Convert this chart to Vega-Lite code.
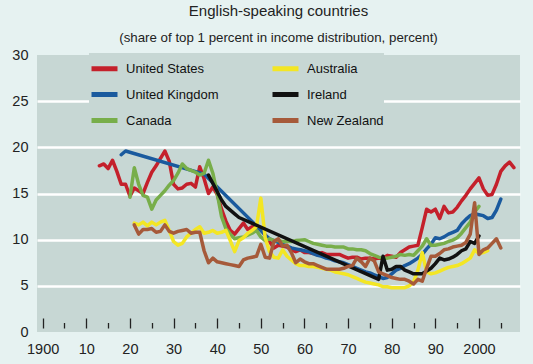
{
  "$schema": "https://vega.github.io/schema/vega-lite/v6.json",
  "width": 483,
  "height": 277,
  "autosize": {"type": "none"},
  "padding": {"left": 37, "top": 55, "right": 13, "bottom": 32},
  "background": "#e6f2f1",
  "title": {
    "text": "English-speaking countries",
    "subtitle": "(share of top 1 percent in income distribution, percent)",
    "font": "Liberation Sans",
    "subtitleFont": "Liberation Sans",
    "fontSize": 15,
    "subtitleFontSize": 13.3,
    "fontWeight": "normal",
    "color": "#222222",
    "subtitleColor": "#222222",
    "anchor": "middle",
    "offset": 3,
    "subtitlePadding": 12
  },
  "config": {
    "view": {"fill": "#c7d7d4", "stroke": null},
    "font": "Liberation Sans"
  },
  "datasets": {
    "d": [
{"country":"United States","year":1913,"share":18.0},{"country":"United States","year":1914,"share":18.2},{"country":"United States","year":1915,"share":17.7},{"country":"United States","year":1916,"share":18.6},{"country":"United States","year":1917,"share":17.4},{"country":"United States","year":1918,"share":16.0},{"country":"United States","year":1919,"share":16.0},{"country":"United States","year":1920,"share":14.7},{"country":"United States","year":1921,"share":15.6},{"country":"United States","year":1922,"share":15.3},{"country":"United States","year":1923,"share":15.0},{"country":"United States","year":1924,"share":16.2},{"country":"United States","year":1925,"share":17.3},{"country":"United States","year":1926,"share":18.0},{"country":"United States","year":1927,"share":18.8},{"country":"United States","year":1928,"share":19.6},{"country":"United States","year":1929,"share":18.5},{"country":"United States","year":1930,"share":16.0},{"country":"United States","year":1931,"share":15.5},{"country":"United States","year":1932,"share":15.6},{"country":"United States","year":1933,"share":16.0},{"country":"United States","year":1934,"share":16.1},{"country":"United States","year":1935,"share":15.7},{"country":"United States","year":1936,"share":17.9},{"country":"United States","year":1937,"share":16.6},{"country":"United States","year":1938,"share":15.0},{"country":"United States","year":1939,"share":15.7},{"country":"United States","year":1940,"share":14.9},{"country":"United States","year":1941,"share":13.3},{"country":"United States","year":1942,"share":12.0},{"country":"United States","year":1943,"share":11.0},{"country":"United States","year":1944,"share":10.6},{"country":"United States","year":1945,"share":11.2},{"country":"United States","year":1946,"share":11.8},{"country":"United States","year":1947,"share":11.1},{"country":"United States","year":1948,"share":11.4},{"country":"United States","year":1949,"share":11.1},{"country":"United States","year":1950,"share":11.3},{"country":"United States","year":1951,"share":10.5},{"country":"United States","year":1952,"share":9.8},{"country":"United States","year":1953,"share":9.1},{"country":"United States","year":1954,"share":9.4},{"country":"United States","year":1955,"share":9.3},{"country":"United States","year":1956,"share":9.2},{"country":"United States","year":1957,"share":8.9},{"country":"United States","year":1958,"share":8.7},{"country":"United States","year":1959,"share":8.9},{"country":"United States","year":1960,"share":8.6},{"country":"United States","year":1961,"share":8.6},{"country":"United States","year":1962,"share":8.5},{"country":"United States","year":1963,"share":8.5},{"country":"United States","year":1964,"share":8.6},{"country":"United States","year":1965,"share":8.4},{"country":"United States","year":1966,"share":8.4},{"country":"United States","year":1967,"share":8.4},{"country":"United States","year":1968,"share":8.4},{"country":"United States","year":1969,"share":8.2},{"country":"United States","year":1970,"share":8.0},{"country":"United States","year":1971,"share":8.1},{"country":"United States","year":1972,"share":8.1},{"country":"United States","year":1973,"share":7.9},{"country":"United States","year":1974,"share":8.0},{"country":"United States","year":1975,"share":8.0},{"country":"United States","year":1976,"share":7.9},{"country":"United States","year":1977,"share":8.0},{"country":"United States","year":1978,"share":8.0},{"country":"United States","year":1979,"share":8.3},{"country":"United States","year":1980,"share":8.2},{"country":"United States","year":1981,"share":8.1},{"country":"United States","year":1982,"share":8.6},{"country":"United States","year":1983,"share":8.9},{"country":"United States","year":1984,"share":9.2},{"country":"United States","year":1985,"share":9.3},{"country":"United States","year":1986,"share":9.4},{"country":"United States","year":1987,"share":11.3},{"country":"United States","year":1988,"share":13.3},{"country":"United States","year":1989,"share":13.0},{"country":"United States","year":1990,"share":13.3},{"country":"United States","year":1991,"share":12.3},{"country":"United States","year":1992,"share":13.6},{"country":"United States","year":1993,"share":12.9},{"country":"United States","year":1994,"share":13.0},{"country":"United States","year":1995,"share":13.5},{"country":"United States","year":1996,"share":14.2},{"country":"United States","year":1997,"share":14.8},{"country":"United States","year":1998,"share":15.5},{"country":"United States","year":1999,"share":16.1},{"country":"United States","year":2000,"share":16.7},{"country":"United States","year":2001,"share":15.5},{"country":"United States","year":2002,"share":14.8},{"country":"United States","year":2003,"share":14.9},{"country":"United States","year":2004,"share":16.0},{"country":"United States","year":2005,"share":17.4},{"country":"United States","year":2006,"share":18.0},{"country":"United States","year":2007,"share":18.4},{"country":"United States","year":2008,"share":17.8},
{"country":"United Kingdom","year":1918,"share":19.2},{"country":"United Kingdom","year":1919,"share":19.6},{"country":"United Kingdom","year":1937,"share":17.1},{"country":"United Kingdom","year":1949,"share":11.5},{"country":"United Kingdom","year":1951,"share":10.5},{"country":"United Kingdom","year":1952,"share":10.1},{"country":"United Kingdom","year":1953,"share":9.9},{"country":"United Kingdom","year":1954,"share":9.7},{"country":"United Kingdom","year":1955,"share":9.5},{"country":"United Kingdom","year":1956,"share":9.3},{"country":"United Kingdom","year":1957,"share":9.1},{"country":"United Kingdom","year":1958,"share":9.0},{"country":"United Kingdom","year":1959,"share":8.9},{"country":"United Kingdom","year":1960,"share":8.8},{"country":"United Kingdom","year":1961,"share":8.7},{"country":"United Kingdom","year":1962,"share":8.5},{"country":"United Kingdom","year":1963,"share":8.3},{"country":"United Kingdom","year":1964,"share":8.2},{"country":"United Kingdom","year":1965,"share":8.0},{"country":"United Kingdom","year":1966,"share":7.9},{"country":"United Kingdom","year":1967,"share":7.7},{"country":"United Kingdom","year":1968,"share":7.6},{"country":"United Kingdom","year":1969,"share":7.5},{"country":"United Kingdom","year":1970,"share":7.3},{"country":"United Kingdom","year":1971,"share":7.1},{"country":"United Kingdom","year":1972,"share":6.9},{"country":"United Kingdom","year":1973,"share":6.7},{"country":"United Kingdom","year":1974,"share":6.5},{"country":"United Kingdom","year":1975,"share":6.4},{"country":"United Kingdom","year":1976,"share":6.2},{"country":"United Kingdom","year":1977,"share":6.0},{"country":"United Kingdom","year":1978,"share":5.8},{"country":"United Kingdom","year":1979,"share":5.9},{"country":"United Kingdom","year":1980,"share":6.3},{"country":"United Kingdom","year":1981,"share":6.7},{"country":"United Kingdom","year":1982,"share":6.9},{"country":"United Kingdom","year":1983,"share":7.2},{"country":"United Kingdom","year":1984,"share":7.4},{"country":"United Kingdom","year":1985,"share":7.7},{"country":"United Kingdom","year":1986,"share":8.0},{"country":"United Kingdom","year":1987,"share":8.4},{"country":"United Kingdom","year":1988,"share":9.0},{"country":"United Kingdom","year":1989,"share":9.5},{"country":"United Kingdom","year":1990,"share":10.2},{"country":"United Kingdom","year":1991,"share":10.1},{"country":"United Kingdom","year":1992,"share":10.3},{"country":"United Kingdom","year":1993,"share":10.6},{"country":"United Kingdom","year":1994,"share":10.8},{"country":"United Kingdom","year":1995,"share":11.0},{"country":"United Kingdom","year":1996,"share":11.7},{"country":"United Kingdom","year":1997,"share":12.2},{"country":"United Kingdom","year":1998,"share":12.6},{"country":"United Kingdom","year":1999,"share":12.8},{"country":"United Kingdom","year":2000,"share":12.7},{"country":"United Kingdom","year":2001,"share":12.6},{"country":"United Kingdom","year":2002,"share":12.3},{"country":"United Kingdom","year":2003,"share":12.4},{"country":"United Kingdom","year":2004,"share":13.2},{"country":"United Kingdom","year":2005,"share":14.4},
{"country":"Canada","year":1920,"share":14.6},{"country":"Canada","year":1921,"share":17.8},{"country":"Canada","year":1922,"share":16.0},{"country":"Canada","year":1923,"share":14.8},{"country":"Canada","year":1924,"share":14.6},{"country":"Canada","year":1925,"share":13.3},{"country":"Canada","year":1926,"share":14.3},{"country":"Canada","year":1927,"share":14.8},{"country":"Canada","year":1928,"share":15.3},{"country":"Canada","year":1929,"share":15.9},{"country":"Canada","year":1930,"share":16.4},{"country":"Canada","year":1931,"share":17.2},{"country":"Canada","year":1932,"share":18.2},{"country":"Canada","year":1933,"share":17.7},{"country":"Canada","year":1934,"share":17.5},{"country":"Canada","year":1935,"share":17.3},{"country":"Canada","year":1936,"share":17.0},{"country":"Canada","year":1937,"share":17.2},{"country":"Canada","year":1938,"share":18.6},{"country":"Canada","year":1939,"share":17.2},{"country":"Canada","year":1940,"share":15.0},{"country":"Canada","year":1941,"share":12.5},{"country":"Canada","year":1942,"share":11.2},{"country":"Canada","year":1943,"share":10.6},{"country":"Canada","year":1944,"share":10.1},{"country":"Canada","year":1945,"share":10.2},{"country":"Canada","year":1946,"share":10.3},{"country":"Canada","year":1947,"share":10.5},{"country":"Canada","year":1948,"share":10.7},{"country":"Canada","year":1949,"share":11.0},{"country":"Canada","year":1950,"share":10.3},{"country":"Canada","year":1951,"share":9.9},{"country":"Canada","year":1952,"share":10.1},{"country":"Canada","year":1953,"share":9.9},{"country":"Canada","year":1954,"share":9.9},{"country":"Canada","year":1955,"share":9.8},{"country":"Canada","year":1956,"share":9.8},{"country":"Canada","year":1957,"share":9.8},{"country":"Canada","year":1958,"share":9.9},{"country":"Canada","year":1959,"share":9.95},{"country":"Canada","year":1960,"share":10.0},{"country":"Canada","year":1961,"share":9.8},{"country":"Canada","year":1962,"share":9.6},{"country":"Canada","year":1963,"share":9.5},{"country":"Canada","year":1964,"share":9.4},{"country":"Canada","year":1965,"share":9.3},{"country":"Canada","year":1966,"share":9.3},{"country":"Canada","year":1967,"share":9.2},{"country":"Canada","year":1968,"share":9.2},{"country":"Canada","year":1969,"share":9.2},{"country":"Canada","year":1970,"share":9.0},{"country":"Canada","year":1971,"share":9.0},{"country":"Canada","year":1972,"share":8.9},{"country":"Canada","year":1973,"share":8.9},{"country":"Canada","year":1974,"share":8.8},{"country":"Canada","year":1975,"share":8.5},{"country":"Canada","year":1976,"share":8.3},{"country":"Canada","year":1977,"share":8.1},{"country":"Canada","year":1978,"share":8.0},{"country":"Canada","year":1979,"share":8.0},{"country":"Canada","year":1980,"share":8.1},{"country":"Canada","year":1981,"share":8.2},{"country":"Canada","year":1982,"share":8.4},{"country":"Canada","year":1983,"share":8.3},{"country":"Canada","year":1984,"share":8.4},{"country":"Canada","year":1985,"share":8.3},{"country":"Canada","year":1986,"share":8.8},{"country":"Canada","year":1987,"share":9.3},{"country":"Canada","year":1988,"share":10.1},{"country":"Canada","year":1989,"share":9.4},{"country":"Canada","year":1990,"share":9.4},{"country":"Canada","year":1991,"share":9.5},{"country":"Canada","year":1992,"share":9.6},{"country":"Canada","year":1993,"share":9.8},{"country":"Canada","year":1994,"share":9.95},{"country":"Canada","year":1995,"share":10.2},{"country":"Canada","year":1996,"share":10.7},{"country":"Canada","year":1997,"share":11.3},{"country":"Canada","year":1998,"share":11.9},{"country":"Canada","year":1999,"share":13.0},{"country":"Canada","year":2000,"share":13.6},
{"country":"Australia","year":1921,"share":11.8},{"country":"Australia","year":1922,"share":11.6},{"country":"Australia","year":1923,"share":11.9},{"country":"Australia","year":1924,"share":11.5},{"country":"Australia","year":1925,"share":11.9},{"country":"Australia","year":1926,"share":11.6},{"country":"Australia","year":1927,"share":11.9},{"country":"Australia","year":1928,"share":12.1},{"country":"Australia","year":1929,"share":11.0},{"country":"Australia","year":1930,"share":9.8},{"country":"Australia","year":1931,"share":9.4},{"country":"Australia","year":1932,"share":9.6},{"country":"Australia","year":1933,"share":10.3},{"country":"Australia","year":1934,"share":10.7},{"country":"Australia","year":1935,"share":11.1},{"country":"Australia","year":1936,"share":11.4},{"country":"Australia","year":1937,"share":10.7},{"country":"Australia","year":1938,"share":10.8},{"country":"Australia","year":1939,"share":11.0},{"country":"Australia","year":1940,"share":10.7},{"country":"Australia","year":1941,"share":10.8},{"country":"Australia","year":1942,"share":11.0},{"country":"Australia","year":1943,"share":9.9},{"country":"Australia","year":1944,"share":8.7},{"country":"Australia","year":1945,"share":9.9},{"country":"Australia","year":1946,"share":10.2},{"country":"Australia","year":1947,"share":10.7},{"country":"Australia","year":1948,"share":11.0},{"country":"Australia","year":1949,"share":11.4},{"country":"Australia","year":1950,"share":14.5},{"country":"Australia","year":1951,"share":10.2},{"country":"Australia","year":1952,"share":8.7},{"country":"Australia","year":1953,"share":8.1},{"country":"Australia","year":1954,"share":8.0},{"country":"Australia","year":1955,"share":8.9},{"country":"Australia","year":1956,"share":8.2},{"country":"Australia","year":1957,"share":7.8},{"country":"Australia","year":1958,"share":7.4},{"country":"Australia","year":1959,"share":7.2},{"country":"Australia","year":1960,"share":7.2},{"country":"Australia","year":1961,"share":7.1},{"country":"Australia","year":1962,"share":7.1},{"country":"Australia","year":1963,"share":7.0},{"country":"Australia","year":1964,"share":6.9},{"country":"Australia","year":1965,"share":6.8},{"country":"Australia","year":1966,"share":6.7},{"country":"Australia","year":1967,"share":6.5},{"country":"Australia","year":1968,"share":6.4},{"country":"Australia","year":1969,"share":6.3},{"country":"Australia","year":1970,"share":6.2},{"country":"Australia","year":1971,"share":6.0},{"country":"Australia","year":1972,"share":5.8},{"country":"Australia","year":1973,"share":5.6},{"country":"Australia","year":1974,"share":5.4},{"country":"Australia","year":1975,"share":5.3},{"country":"Australia","year":1976,"share":5.2},{"country":"Australia","year":1977,"share":5.1},{"country":"Australia","year":1978,"share":4.9},{"country":"Australia","year":1979,"share":4.9},{"country":"Australia","year":1980,"share":4.8},{"country":"Australia","year":1981,"share":4.8},{"country":"Australia","year":1982,"share":4.8},{"country":"Australia","year":1983,"share":4.8},{"country":"Australia","year":1984,"share":5.0},{"country":"Australia","year":1985,"share":5.4},{"country":"Australia","year":1986,"share":6.7},{"country":"Australia","year":1987,"share":8.6},{"country":"Australia","year":1988,"share":6.5},{"country":"Australia","year":1989,"share":6.3},{"country":"Australia","year":1990,"share":6.4},{"country":"Australia","year":1991,"share":6.6},{"country":"Australia","year":1992,"share":6.8},{"country":"Australia","year":1993,"share":7.0},{"country":"Australia","year":1994,"share":7.1},{"country":"Australia","year":1995,"share":7.2},{"country":"Australia","year":1996,"share":7.4},{"country":"Australia","year":1997,"share":7.7},{"country":"Australia","year":1998,"share":8.0},{"country":"Australia","year":1999,"share":8.9},{"country":"Australia","year":2000,"share":8.5},{"country":"Australia","year":2001,"share":8.6},{"country":"Australia","year":2002,"share":8.8},
{"country":"Ireland","year":1938,"share":17.0},{"country":"Ireland","year":1939,"share":16.1},{"country":"Ireland","year":1940,"share":15.2},{"country":"Ireland","year":1941,"share":14.3},{"country":"Ireland","year":1942,"share":13.6},{"country":"Ireland","year":1943,"share":13.2},{"country":"Ireland","year":1944,"share":12.8},{"country":"Ireland","year":1945,"share":12.4},{"country":"Ireland","year":1977,"share":5.7},{"country":"Ireland","year":1978,"share":8.2},{"country":"Ireland","year":1979,"share":6.7},{"country":"Ireland","year":1980,"share":6.8},{"country":"Ireland","year":1981,"share":7.1},{"country":"Ireland","year":1982,"share":7.1},{"country":"Ireland","year":1983,"share":6.7},{"country":"Ireland","year":1984,"share":6.5},{"country":"Ireland","year":1985,"share":6.3},{"country":"Ireland","year":1986,"share":6.3},{"country":"Ireland","year":1987,"share":6.3},{"country":"Ireland","year":1988,"share":6.6},{"country":"Ireland","year":1989,"share":6.9},{"country":"Ireland","year":1990,"share":7.4},{"country":"Ireland","year":1991,"share":8.0},{"country":"Ireland","year":1992,"share":7.8},{"country":"Ireland","year":1993,"share":7.9},{"country":"Ireland","year":1994,"share":8.1},{"country":"Ireland","year":1995,"share":8.4},{"country":"Ireland","year":1996,"share":8.8},{"country":"Ireland","year":1997,"share":9.0},{"country":"Ireland","year":1998,"share":9.8},{"country":"Ireland","year":1999,"share":9.6},{"country":"Ireland","year":2000,"share":10.4},
{"country":"New Zealand","year":1921,"share":11.6},{"country":"New Zealand","year":1922,"share":10.6},{"country":"New Zealand","year":1923,"share":11.1},{"country":"New Zealand","year":1924,"share":11.1},{"country":"New Zealand","year":1925,"share":11.2},{"country":"New Zealand","year":1926,"share":10.8},{"country":"New Zealand","year":1927,"share":10.9},{"country":"New Zealand","year":1928,"share":11.6},{"country":"New Zealand","year":1929,"share":10.9},{"country":"New Zealand","year":1930,"share":10.7},{"country":"New Zealand","year":1931,"share":10.9},{"country":"New Zealand","year":1932,"share":11.0},{"country":"New Zealand","year":1933,"share":11.1},{"country":"New Zealand","year":1934,"share":10.7},{"country":"New Zealand","year":1935,"share":10.8},{"country":"New Zealand","year":1936,"share":10.8},{"country":"New Zealand","year":1937,"share":8.8},{"country":"New Zealand","year":1938,"share":7.5},{"country":"New Zealand","year":1939,"share":8.0},{"country":"New Zealand","year":1940,"share":7.6},{"country":"New Zealand","year":1941,"share":7.5},{"country":"New Zealand","year":1942,"share":7.4},{"country":"New Zealand","year":1943,"share":7.3},{"country":"New Zealand","year":1944,"share":7.2},{"country":"New Zealand","year":1945,"share":7.1},{"country":"New Zealand","year":1946,"share":7.8},{"country":"New Zealand","year":1947,"share":8.0},{"country":"New Zealand","year":1948,"share":8.1},{"country":"New Zealand","year":1949,"share":8.2},{"country":"New Zealand","year":1950,"share":9.5},{"country":"New Zealand","year":1951,"share":8.1},{"country":"New Zealand","year":1952,"share":8.0},{"country":"New Zealand","year":1953,"share":9.8},{"country":"New Zealand","year":1954,"share":10.1},{"country":"New Zealand","year":1955,"share":9.3},{"country":"New Zealand","year":1956,"share":9.4},{"country":"New Zealand","year":1957,"share":8.6},{"country":"New Zealand","year":1958,"share":7.5},{"country":"New Zealand","year":1959,"share":7.9},{"country":"New Zealand","year":1960,"share":7.6},{"country":"New Zealand","year":1961,"share":7.4},{"country":"New Zealand","year":1962,"share":7.4},{"country":"New Zealand","year":1963,"share":7.2},{"country":"New Zealand","year":1964,"share":7.0},{"country":"New Zealand","year":1965,"share":6.8},{"country":"New Zealand","year":1966,"share":6.8},{"country":"New Zealand","year":1967,"share":6.8},{"country":"New Zealand","year":1968,"share":6.8},{"country":"New Zealand","year":1969,"share":6.9},{"country":"New Zealand","year":1970,"share":7.1},{"country":"New Zealand","year":1971,"share":7.2},{"country":"New Zealand","year":1972,"share":8.0},{"country":"New Zealand","year":1973,"share":7.6},{"country":"New Zealand","year":1974,"share":7.1},{"country":"New Zealand","year":1975,"share":8.0},{"country":"New Zealand","year":1976,"share":7.7},{"country":"New Zealand","year":1977,"share":6.5},{"country":"New Zealand","year":1978,"share":6.3},{"country":"New Zealand","year":1979,"share":6.1},{"country":"New Zealand","year":1980,"share":5.9},{"country":"New Zealand","year":1981,"share":5.8},{"country":"New Zealand","year":1982,"share":5.7},{"country":"New Zealand","year":1983,"share":5.7},{"country":"New Zealand","year":1984,"share":5.5},{"country":"New Zealand","year":1985,"share":5.2},{"country":"New Zealand","year":1986,"share":5.7},{"country":"New Zealand","year":1987,"share":5.5},{"country":"New Zealand","year":1988,"share":6.9},{"country":"New Zealand","year":1989,"share":8.2},{"country":"New Zealand","year":1990,"share":8.2},{"country":"New Zealand","year":1991,"share":8.5},{"country":"New Zealand","year":1992,"share":8.9},{"country":"New Zealand","year":1993,"share":9.0},{"country":"New Zealand","year":1994,"share":9.2},{"country":"New Zealand","year":1995,"share":9.3},{"country":"New Zealand","year":1996,"share":9.4},{"country":"New Zealand","year":1997,"share":9.7},{"country":"New Zealand","year":1998,"share":10.6},{"country":"New Zealand","year":1999,"share":14.0},{"country":"New Zealand","year":2000,"share":8.4},{"country":"New Zealand","year":2001,"share":8.9},{"country":"New Zealand","year":2002,"share":9.1},{"country":"New Zealand","year":2003,"share":9.6},{"country":"New Zealand","year":2004,"share":10.1},{"country":"New Zealand","year":2005,"share":9.1}
    ]
  },
  "data": {"name": "d"},
  "resolve": {"axis": {"x": "independent"}},
  "layer": [
    {
      "mark": {"type": "line", "strokeWidth": 3.5, "strokeJoin": "round", "strokeCap": "round"},
      "encoding": {
        "x": {
          "field": "year", "type": "quantitative",
          "scale": {"domain": [1898.7, 2009.4], "nice": false, "zero": false},
          "axis": {
            "orient": "bottom",
            "values": [1900, 1910, 1920, 1930, 1940, 1950, 1960, 1970, 1980, 1990, 2000],
            "format": "d",
            "labelExpr": "datum.value == 1900 || datum.value == 2000 ? datum.label : substring(datum.label, 2)",
            "ticks": false, "domain": false, "grid": false,
            "labelPadding": 10, "labelFontSize": 14.5, "labelColor": "#222222",
            "labelFlush": false, "labelOverlap": false, "title": null
          }
        },
        "y": {
          "field": "share", "type": "quantitative",
          "scale": {"domain": [0, 30], "nice": false},
          "axis": {
            "values": [0, 5, 10, 15, 20, 25, 30],
            "grid": true, "gridColor": "#ffffff", "gridWidth": 2.5,
            "gridOpacity": {"condition": {"test": "datum.value === 0 || datum.value === 30", "value": 0}, "value": 1},
            "ticks": false, "domain": false,
            "labelPadding": 9, "labelFontSize": 14.5, "labelColor": "#222222",
            "title": null
          }
        },
        "color": {
          "field": "country", "type": "nominal",
          "scale": {
            "domain": ["United States", "United Kingdom", "Canada", "Australia", "Ireland", "New Zealand"],
            "range": ["#c4202b", "#1a5a9e", "#78ae4a", "#f3e624", "#111111", "#a65a3a"]
          },
          "legend": {
            "orient": "none", "legendX": 52, "legendY": -2,
            "columns": 2, "title": null,
            "symbolType": "stroke", "symbolSize": 676, "symbolStrokeWidth": 5,
            "labelFont": "Liberation Sans",
            "labelFontSize": 13, "labelOffset": 6, "labelColor": "#111111", "labelLimit": 0,
            "columnPadding": 43, "rowPadding": 0,
            "fillColor": "#c7d7d4", "padding": 0
          }
        }
      }
    },
    {
      "mark": {"type": "point", "opacity": 0},
      "encoding": {
        "x": {
          "field": "year", "type": "quantitative",
          "axis": {
            "orient": "bottom", "offset": -4,
            "values": [1900, 1905, 1910, 1915, 1920, 1925, 1930, 1935, 1940, 1945, 1950, 1955, 1960, 1965, 1970, 1975, 1980, 1985, 1990, 1995, 2000, 2005],
            "ticks": true,
            "tickSize": {"condition": {"test": "datum.value % 10 === 0", "value": -10}, "value": -5.5},
            "tickColor": "#222222", "tickWidth": 1.3,
            "labels": false, "domain": false, "grid": false, "title": null
          }
        }
      }
    }
  ]
}
